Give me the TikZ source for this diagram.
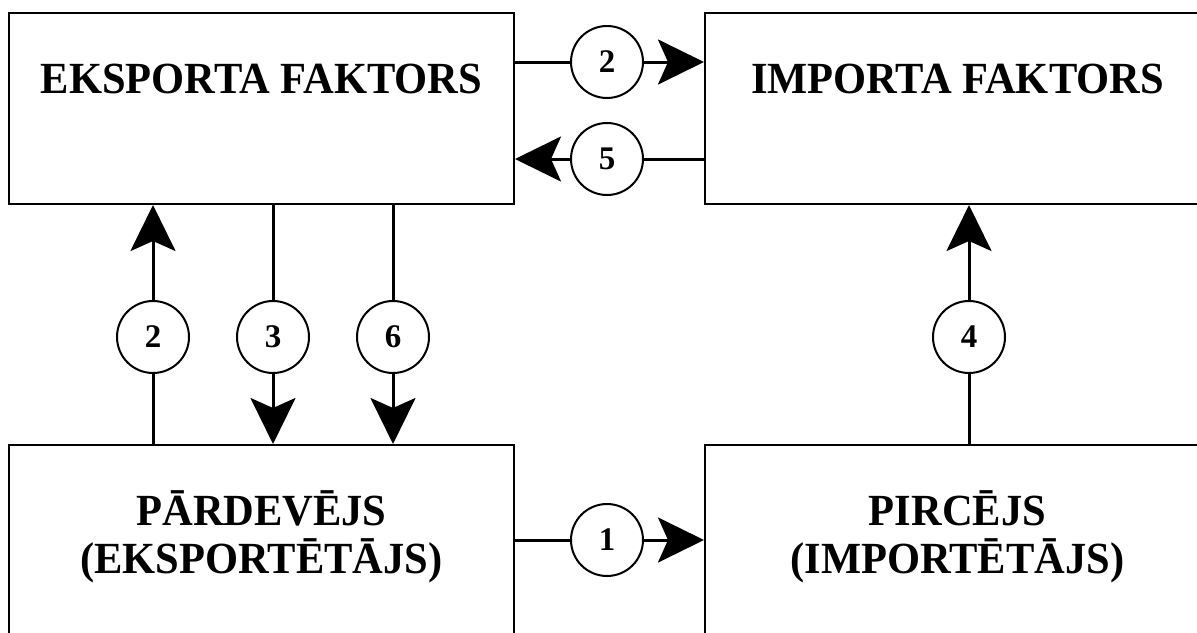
\documentclass[tikz,border=0pt]{standalone}
\usepackage{fontspec}
\setmainfont{Liberation Serif}
\usetikzlibrary{arrows.meta,calc}
% party names are set slightly narrow and tall
\newcommand\partyname[1]{\scalebox{0.955}[1]{#1}}
\tikzset{
  party/.style={draw, line width=2pt, minimum width=505pt, minimum height=191pt,
                inner sep=0pt, anchor=north west},
  title/.style={font=\bfseries\fontsize{44.5}{48}\selectfont, anchor=base, inner sep=0pt},
  num/.style={draw, circle, line width=2pt, minimum size=72pt, inner sep=0pt,
              fill=white, font=\bfseries\fontsize{33}{33}\selectfont},
  flow/.style={line width=3pt},
  flowarrow/.style={flow, -{Stealth[length=46pt, width=45pt, inset=10pt]}},
}
\begin{document}
\begin{tikzpicture}[x=1pt, y=-1pt]
  \useasboundingbox (0,0) rectangle (1197,632);
  \clip (0,0) rectangle (1197,632);

  % parties
  \node[party] (ef)  at (8,12)    {};
  \node[party] (if)  at (704,12)  {};
  \node[party] (sel) at (8,444)   {};
  \node[party] (buy) at (704,444) {};

  % captions
  \node[title] (tef)   at ($(ef.north)+(0,81)$)   {\partyname{EKSPORTA FAKTORS}};
  \node[title] (tif)   at ($(if.north)+(0,81)$)   {\partyname{IMPORTA FAKTORS}};
  \node[title] (tsel)  at ($(sel.north)+(0,81)$)  {\partyname{PĀRDEVĒJS}};
  \node[title] (tsel2) at ($(sel.north)+(0,129)$) {\partyname{(EKSPORTĒTĀJS)}};
  \node[title] (tbuy)  at ($(buy.north)+(0,81)$)  {\partyname{PIRCĒJS}};
  \node[title] (tbuy2) at ($(buy.north)+(0,129)$) {\partyname{(IMPORTĒTĀJS)}};

  % step markers
  \node[num] (n2h) at (607,62)  {2};
  \node[num] (n5)  at (607,159) {5};
  \node[num] (n1)  at (607,540) {1};
  \node[num] (n2v) at (153,337) {2};
  \node[num] (n3)  at (273,337) {3};
  \node[num] (n6)  at (393,337) {6};
  \node[num] (n4)  at (969,337) {4};

  % flows between the parties
  \draw[flow] (n2h.west -| ef.east) -- (n2h.west);
  \draw[flowarrow] (n2h.east) -- (n2h.east -| if.west);

  \draw[flow] (n5.east -| if.west) -- (n5.east);
  \draw[flowarrow] (n5.west) -- (n5.west -| ef.east);

  \draw[flow] (n1.west -| sel.east) -- (n1.west);
  \draw[flowarrow] (n1.east) -- (n1.east -| buy.west);

  \draw[flow] (n2v.south |- sel.north) -- (n2v.south);
  \draw[flowarrow] (n2v.north) -- (n2v.north |- ef.south);

  \draw[flow] (n3.north |- ef.south) -- (n3.north);
  \draw[flowarrow] (n3.south) -- (n3.south |- sel.north);

  \draw[flow] (n6.north |- ef.south) -- (n6.north);
  \draw[flowarrow] (n6.south) -- (n6.south |- sel.north);

  \draw[flow] (n4.south |- buy.north) -- (n4.south);
  \draw[flowarrow] (n4.north) -- (n4.north |- if.south);
\end{tikzpicture}
\end{document}
